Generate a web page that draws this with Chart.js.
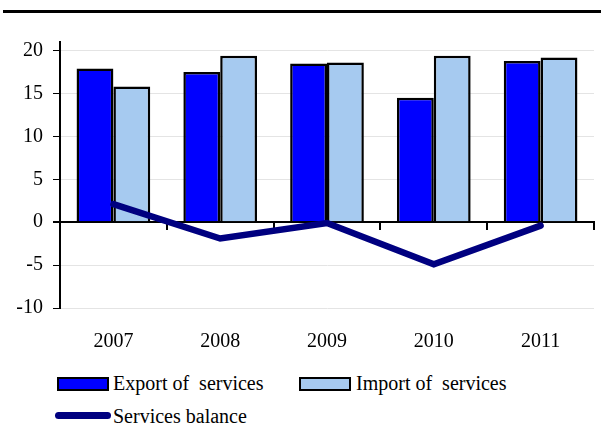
<!DOCTYPE html>
<html>
<head>
<meta charset="utf-8">
<script src="https://cdn.jsdelivr.net/npm/chart.js@4.4.1/dist/chart.umd.min.js"></script>
<style>
  body { margin: 0; background: #fff; font-family: 'Liberation Serif', 'Times New Roman', serif; }
  #page { position: relative; width: 601px; height: 439px; overflow: hidden; }
  #rule { position: absolute; left: 3px; top: 10px; width: 598px; height: 3px; background: #000; }
  #wrap { position: absolute; left: 0; top: 0; width: 601px; height: 358px; }
  .lg { position: absolute; height: 24px; line-height: 24px; font-size: 20px; color: #000; white-space: pre; }
  .box { position: absolute; box-sizing: border-box; width: 52px; height: 14px; border: 2px solid #000; }
  .ln { position: absolute; width: 56px; height: 7px; border-radius: 4px; background: #000080; }
</style>
</head>
<body>
<div id="page">
  <div id="rule"></div>
  <div id="wrap"><canvas id="servicesChart"></canvas></div>
  <div class="box" style="left:57px; top:377px; background:#0000FF;"></div>
  <div class="lg" style="left:113px; top:371px;">Export of  services</div>
  <div class="box" style="left:299px; top:377px; background:#A6CAF0;"></div>
  <div class="lg" style="left:356px; top:371px;">Import of  services</div>
  <div class="ln" style="left:55px; top:412px;"></div>
  <div class="lg" style="left:113px; top:404px;">Services balance</div>
</div>
<script>
// values
const years = ['2007', '2008', '2009', '2010', '2011'];
const exportServices = [17.9, 17.5, 18.5, 14.5, 18.8];
const importServices = [15.8, 19.4, 18.6, 19.4, 19.2];
const servicesBalance = [2.1, -1.9, -0.1, -4.9, -0.4];
const yTicks = [-10, -5, 0, 5, 10, 15, 20];

const serif = { family: "'Liberation Serif', 'Times New Roman', serif", size: 20 };

const ctx = document.getElementById('servicesChart').getContext('2d');
new Chart(ctx, {
    type: 'bar',
    data: {
        labels: years,
        datasets: [
            {
                type: 'line',
                label: 'Services balance',
                data: servicesBalance,
                borderColor: '#000080',
                borderWidth: 6.5,
                borderCapStyle: 'round',
                pointRadius: 0,
                tension: 0,
                order: 0
            },
            {
                label: 'Export of services',
                data: exportServices,
                backgroundColor: '#0000FF',
                borderColor: '#000',
                borderWidth: 2.5,
                categoryPercentage: 0.69,
                barPercentage: 1,
                order: 1
            },
            {
                label: 'Import of services',
                data: importServices,
                backgroundColor: '#A6CAF0',
                borderColor: '#000',
                borderWidth: 2.5,
                categoryPercentage: 0.69,
                barPercentage: 1,
                order: 1
            }
        ]
    },
    options: {
        responsive: true,
        maintainAspectRatio: false,
        animation: false,
        devicePixelRatio: 1,
        layout: { padding: { top: 42, right: 7, left: 0, bottom: 0 } },
        plugins: {
            legend: { display: false },
            tooltip: { enabled: false }
        },
        scales: {
            x: {
                grid: { display: false },
                border: { display: false },
                ticks: { color: '#000', font: serif, padding: 14 },
                afterFit: function(scale) { scale.height = 50; }
            },
            x2: {
                type: 'category',
                labels: years,
                position: { y: 0 },
                offset: true,
                grid: {
                    offset: true,
                    drawOnChartArea: false,
                    color: '#000',
                    lineWidth: 2,
                    tickLength: 7
                },
                border: { display: true, color: '#000', width: 2 },
                ticks: { display: false }
            },
            y: {
                min: -10,
                max: 21,
                ticks: {
                    color: '#000',
                    font: serif,
                    padding: 10
                },
                afterBuildTicks: function(scale) {
                    scale.ticks = yTicks.map(v => ({ value: v }));
                },
                afterFit: function(scale) { scale.width = 60; },
                grid: {
                    color: c => (c.tick && c.tick.value === 0) ? '#000' : '#e4e4e4',
                    lineWidth: c => (c.tick && c.tick.value === 0) ? 2 : 1,
                    tickColor: '#000',
                    tickLength: 7
                },
                border: { color: '#000', width: 2 }
            }
        }
    }
});
</script>
</body>
</html>
